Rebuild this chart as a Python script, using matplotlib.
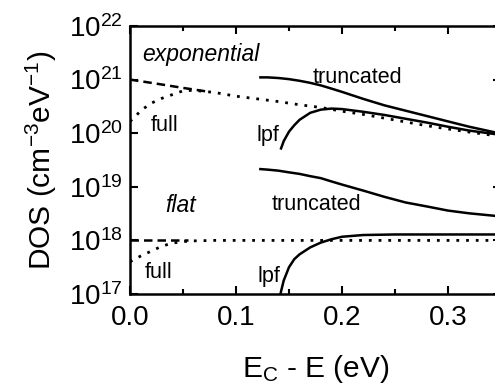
import numpy as np
import matplotlib
matplotlib.use('Agg')
import matplotlib.pyplot as plt
from matplotlib.ticker import MultipleLocator, NullLocator, LogLocator

plt.rcParams['font.family'] = ['Liberation Sans', 'DejaVu Sans']
plt.rcParams['mathtext.fontset'] = 'custom'
plt.rcParams['mathtext.rm'] = 'Liberation Sans'
plt.rcParams['mathtext.it'] = 'Liberation Sans:italic'
plt.rcParams['mathtext.default'] = 'regular'

# exponential tail of states
exp_tail_E = [0.0, 0.025, 0.05, 0.075]
exp_tail_N = [1.0e21, 8.4e20, 7.0e20, 5.9e20]

exp_full_E = [0.0, 0.005, 0.01, 0.02, 0.03, 0.04, 0.05, 0.06, 0.08, 0.10, 0.12,
              0.14, 0.16, 0.18, 0.20, 0.22, 0.24, 0.26, 0.28, 0.30, 0.32, 0.35]
exp_full_N = [1.66e20, 2.04e20, 2.63e20, 3.63e20, 4.47e20, 5.25e20, 6.17e20, 6.31e20,
              5.75e20, 4.90e20, 4.37e20, 3.89e20, 3.39e20, 3.02e20, 2.57e20, 2.24e20,
              1.91e20, 1.62e20, 1.38e20, 1.20e20, 1.05e20, 8.7e19]

exp_trunc_E = [0.123, 0.13, 0.14, 0.15, 0.16, 0.17, 0.18, 0.19, 0.20, 0.22, 0.24,
               0.26, 0.28, 0.30, 0.32, 0.35]
exp_trunc_N = [1.10e21, 1.10e21, 1.07e21, 1.02e21, 9.5e20, 8.7e20, 7.8e20, 6.8e20,
               5.9e20, 4.37e20, 3.31e20, 2.63e20, 2.09e20, 1.66e20, 1.32e20, 9.8e19]

exp_lpf_E = [0.1425, 0.145, 0.15, 0.155, 0.16, 0.17, 0.18, 0.19, 0.20, 0.22, 0.24,
             0.26, 0.28, 0.30, 0.32, 0.35]
exp_lpf_N = [5.2e19, 7.1e19, 1.07e20, 1.41e20, 1.78e20, 2.40e20, 2.75e20, 2.88e20,
             2.82e20, 2.51e20, 2.19e20, 1.86e20, 1.58e20, 1.32e20, 1.12e20, 9.3e19]

# flat distribution
flat_tail_E = [0.0, 0.055]
flat_tail_N = [1.0e18, 1.0e18]

flat_full_E = [0.0, 0.01, 0.02, 0.03, 0.04, 0.05, 0.06, 0.08, 0.10, 0.15, 0.20,
               0.25, 0.30, 0.35]
flat_full_N = [4.0e17, 5.1e17, 6.3e17, 7.8e17, 8.9e17, 9.5e17, 9.8e17, 1.0e18,
               1.0e18, 1.0e18, 1.0e18, 1.0e18, 1.0e18, 1.0e18]

flat_trunc_E = [0.123, 0.13, 0.14, 0.15, 0.16, 0.17, 0.18, 0.19, 0.20, 0.22, 0.24,
                0.26, 0.28, 0.30, 0.32, 0.35]
flat_trunc_N = [2.14e19, 2.09e19, 2.0e19, 1.86e19, 1.74e19, 1.58e19, 1.45e19,
                1.26e19, 1.10e19, 8.5e18, 6.5e18, 5.1e18, 4.3e18, 3.6e18, 3.2e18,
                2.8e18]

flat_lpf_E = [0.141, 0.1425, 0.145, 0.15, 0.155, 0.16, 0.17, 0.18, 0.19, 0.20,
              0.22, 0.25, 0.30, 0.35]
flat_lpf_N = [7.9e16, 1.12e17, 1.78e17, 3.16e17, 4.47e17, 5.5e17, 7.4e17, 9.1e17,
              1.05e18, 1.17e18, 1.26e18, 1.29e18, 1.29e18, 1.29e18]

fig = plt.figure(figsize=(4.95, 3.85), dpi=100)
ax = fig.add_axes([130/495, 91/385, 371/495, 268/385])

lw = 1.8
dash = (0, (3.4, 2.0))
dot = (0, (1, 2.5))

ax.plot(exp_tail_E, exp_tail_N, color='k', lw=lw, ls=dash)
ax.plot(exp_full_E, exp_full_N, color='k', lw=2.0, ls=dot)
ax.plot(exp_trunc_E, exp_trunc_N, color='k', lw=lw)
ax.plot(exp_lpf_E, exp_lpf_N, color='k', lw=lw)

ax.plot(flat_tail_E, flat_tail_N, color='k', lw=lw, ls=dash)
ax.plot(flat_full_E, flat_full_N, color='k', lw=2.0, ls=dot)
ax.plot(flat_trunc_E, flat_trunc_N, color='k', lw=lw)
ax.plot(flat_lpf_E, flat_lpf_N, color='k', lw=lw)

ax.set_yscale('log')
ax.set_xlim(0, 0.35)
ax.set_ylim(1e17, 1e22)
ax.xaxis.set_major_locator(MultipleLocator(0.1))
ax.xaxis.set_minor_locator(MultipleLocator(0.05))
ax.yaxis.set_major_locator(LogLocator(base=10, numticks=10))
ax.yaxis.set_minor_locator(NullLocator())
ax.set_xticks([0.0, 0.1, 0.2, 0.3])
ax.set_xticklabels(['0.0', '0.1', '0.2', '0.3'])

for s in ax.spines.values():
    s.set_linewidth(1.8)
ax.tick_params(which='both', direction='in', top=True, right=True, width=1.5)
ax.tick_params(which='major', length=6)
ax.tick_params(which='minor', length=3.5)
ax.tick_params(axis='y', labelsize=20, pad=5)
ax.tick_params(axis='x', labelsize=20, pad=8)

ax.set_xlabel(r'E$_\mathregular{C}$ - E (eV)', fontsize=21.5, labelpad=16)
ax.set_ylabel(r'DOS (cm$^{-3}$eV$^{-1}$)', fontsize=21.5, labelpad=7)

fs = 15.5
ax.text(0.012, 10**21.35, 'exponential', fontsize=16.5, style='italic')
ax.text(0.020, 10**20.05, 'full', fontsize=fs)
ax.text(0.172, 10**20.94, 'truncated', fontsize=fs)
ax.text(0.119, 10**19.86, 'lpf', fontsize=fs)
ax.text(0.033, 10**18.53, 'flat', fontsize=16.5, style='italic')
ax.text(0.134, 10**18.57, 'truncated', fontsize=fs)
ax.text(0.014, 10**17.29, 'full', fontsize=fs)
ax.text(0.120, 10**17.23, 'lpf', fontsize=fs)

fig.savefig('out.png', dpi=100)
